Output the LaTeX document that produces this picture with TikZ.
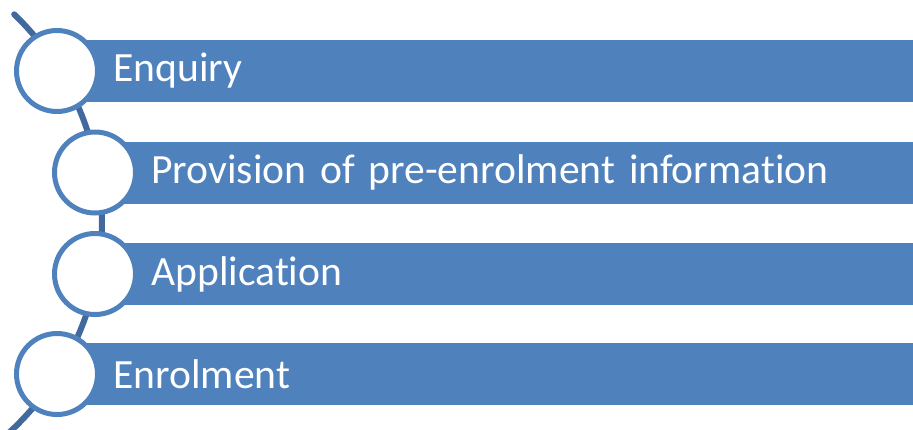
\documentclass[tikz,border=0pt]{standalone}
\usepackage{fontspec}
\setmainfont{Carlito}[Ligatures=NoCommon]
\begin{document}
\begin{tikzpicture}[x=0.5pt, y=-0.5pt,
  bar/.style={fill=StepBlue, anchor=west, minimum height=31pt, inner ysep=0pt, inner xsep=28pt,
    text width=400pt, align=left, text=white, font=\fontsize{20.8}{24}\selectfont},
  ring/.style={circle, draw=StepBlue, line width=2.5pt, fill=white, minimum size=40.5pt, inner sep=0pt}]
\definecolor{StepBlue}{RGB}{79, 129, 189}
\definecolor{StepLine}{RGB}{65, 105, 158}
\useasboundingbox (0,0) rectangle (913,429);
\clip (0,0) rectangle (913,429);
\coordinate (arctop) at (14.2,14.3);
\draw[StepLine, line width=3pt, line cap=round] (arctop) arc[start angle=46, end angle=-48, radius=143.7pt];
\foreach \cx/\cy/\name/\txt in {57/71/enquiry/Enquiry, 95/172.5/provision/Provision of pre-enrolment information,
  95/274/application/Application, 57/374/enrolment/Enrolment}{
\node[bar] (bar-\name) at (\cx, \cy) {\txt};
\node[ring] (ring-\name) at (\cx, \cy) {};
}
\end{tikzpicture}
\end{document}
